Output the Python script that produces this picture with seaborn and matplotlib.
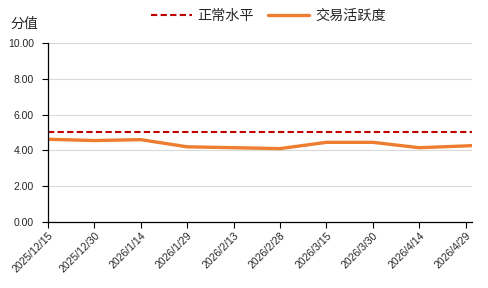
import matplotlib
matplotlib.use("Agg")
import matplotlib.pyplot as plt
import seaborn as sns
import pandas as pd

dates = ["2025-12-15", "2025-12-30", "2026-01-14", "2026-01-29", "2026-02-13",
         "2026-02-28", "2026-03-15", "2026-03-30", "2026-04-14", "2026-04-29", "2026-05-01"]
activity = [4.62, 4.55, 4.60, 4.20, 4.15, 4.10, 4.45, 4.45, 4.15, 4.25, 4.27]
normal_level = 5.0
tick_dates = ["2025-12-15", "2025-12-30", "2026-01-14", "2026-01-29", "2026-02-13",
              "2026-02-28", "2026-03-15", "2026-03-30", "2026-04-14", "2026-04-29"]
tick_labels = ["2025/12/15", "2025/12/30", "2026/1/14", "2026/1/29", "2026/2/13",
               "2026/2/28", "2026/3/15", "2026/3/30", "2026/4/14", "2026/4/29"]
y_ticks = [0, 2, 4, 6, 8, 10]

sns.set_theme(style="white")
plt.rcParams['font.family'] = ['Noto Sans CJK SC', 'DejaVu Sans']

df = pd.DataFrame({"date": pd.to_datetime(dates), "交易活跃度": activity})
df["正常水平"] = normal_level

fig = plt.figure(figsize=(4.88, 2.88), dpi=100)
ax = fig.add_axes([0.098, 0.229, 0.869, 0.622])

ax.grid(axis="y", color="#d9d9d9", linewidth=0.8)
ax.set_axisbelow(True)
sns.lineplot(data=df, x="date", y="正常水平", ax=ax, color="#C00000",
             linestyle=(0, (3, 1.6)), linewidth=1.5, label="正常水平")
sns.lineplot(data=df, x="date", y="交易活跃度", ax=ax, color="#ED7D31",
             linewidth=2.4, label="交易活跃度")

ax.set_xlim(pd.Timestamp("2025-12-15"), pd.Timestamp("2026-05-01"))
ax.set_ylim(0, 10)
ax.set_yticks(y_ticks)
ax.set_yticklabels([f"{v:.2f}" for v in y_ticks], fontsize=7.5, family=['Liberation Sans'])
ax.set_xticks(pd.to_datetime(tick_dates))
ax.set_xticklabels(tick_labels, rotation=45, ha="right", rotation_mode="anchor",
                   fontsize=7.5, family=['Liberation Sans'])
ax.tick_params(axis="x", which="both", bottom=True, length=4, width=0.8, color="black", pad=2)
ax.tick_params(axis="y", left=True, length=4, width=0.8, color="black", pad=6)
ax.set_xlabel("")
ax.set_ylabel("")
for s in ["top", "right"]:
    ax.spines[s].set_visible(False)
for s in ["left", "bottom"]:
    ax.spines[s].set_color("black")
    ax.spines[s].set_linewidth(0.9)

ax.legend(loc="lower center", bbox_to_anchor=(0.52, 1.04), ncol=2, frameon=False,
          fontsize=10.2, handlelength=2.9, columnspacing=1.0, handletextpad=0.4)
fig.text(0.022, 0.918, "分值", fontsize=10, ha="left", va="center")

fig.savefig("out.png", dpi=100)
